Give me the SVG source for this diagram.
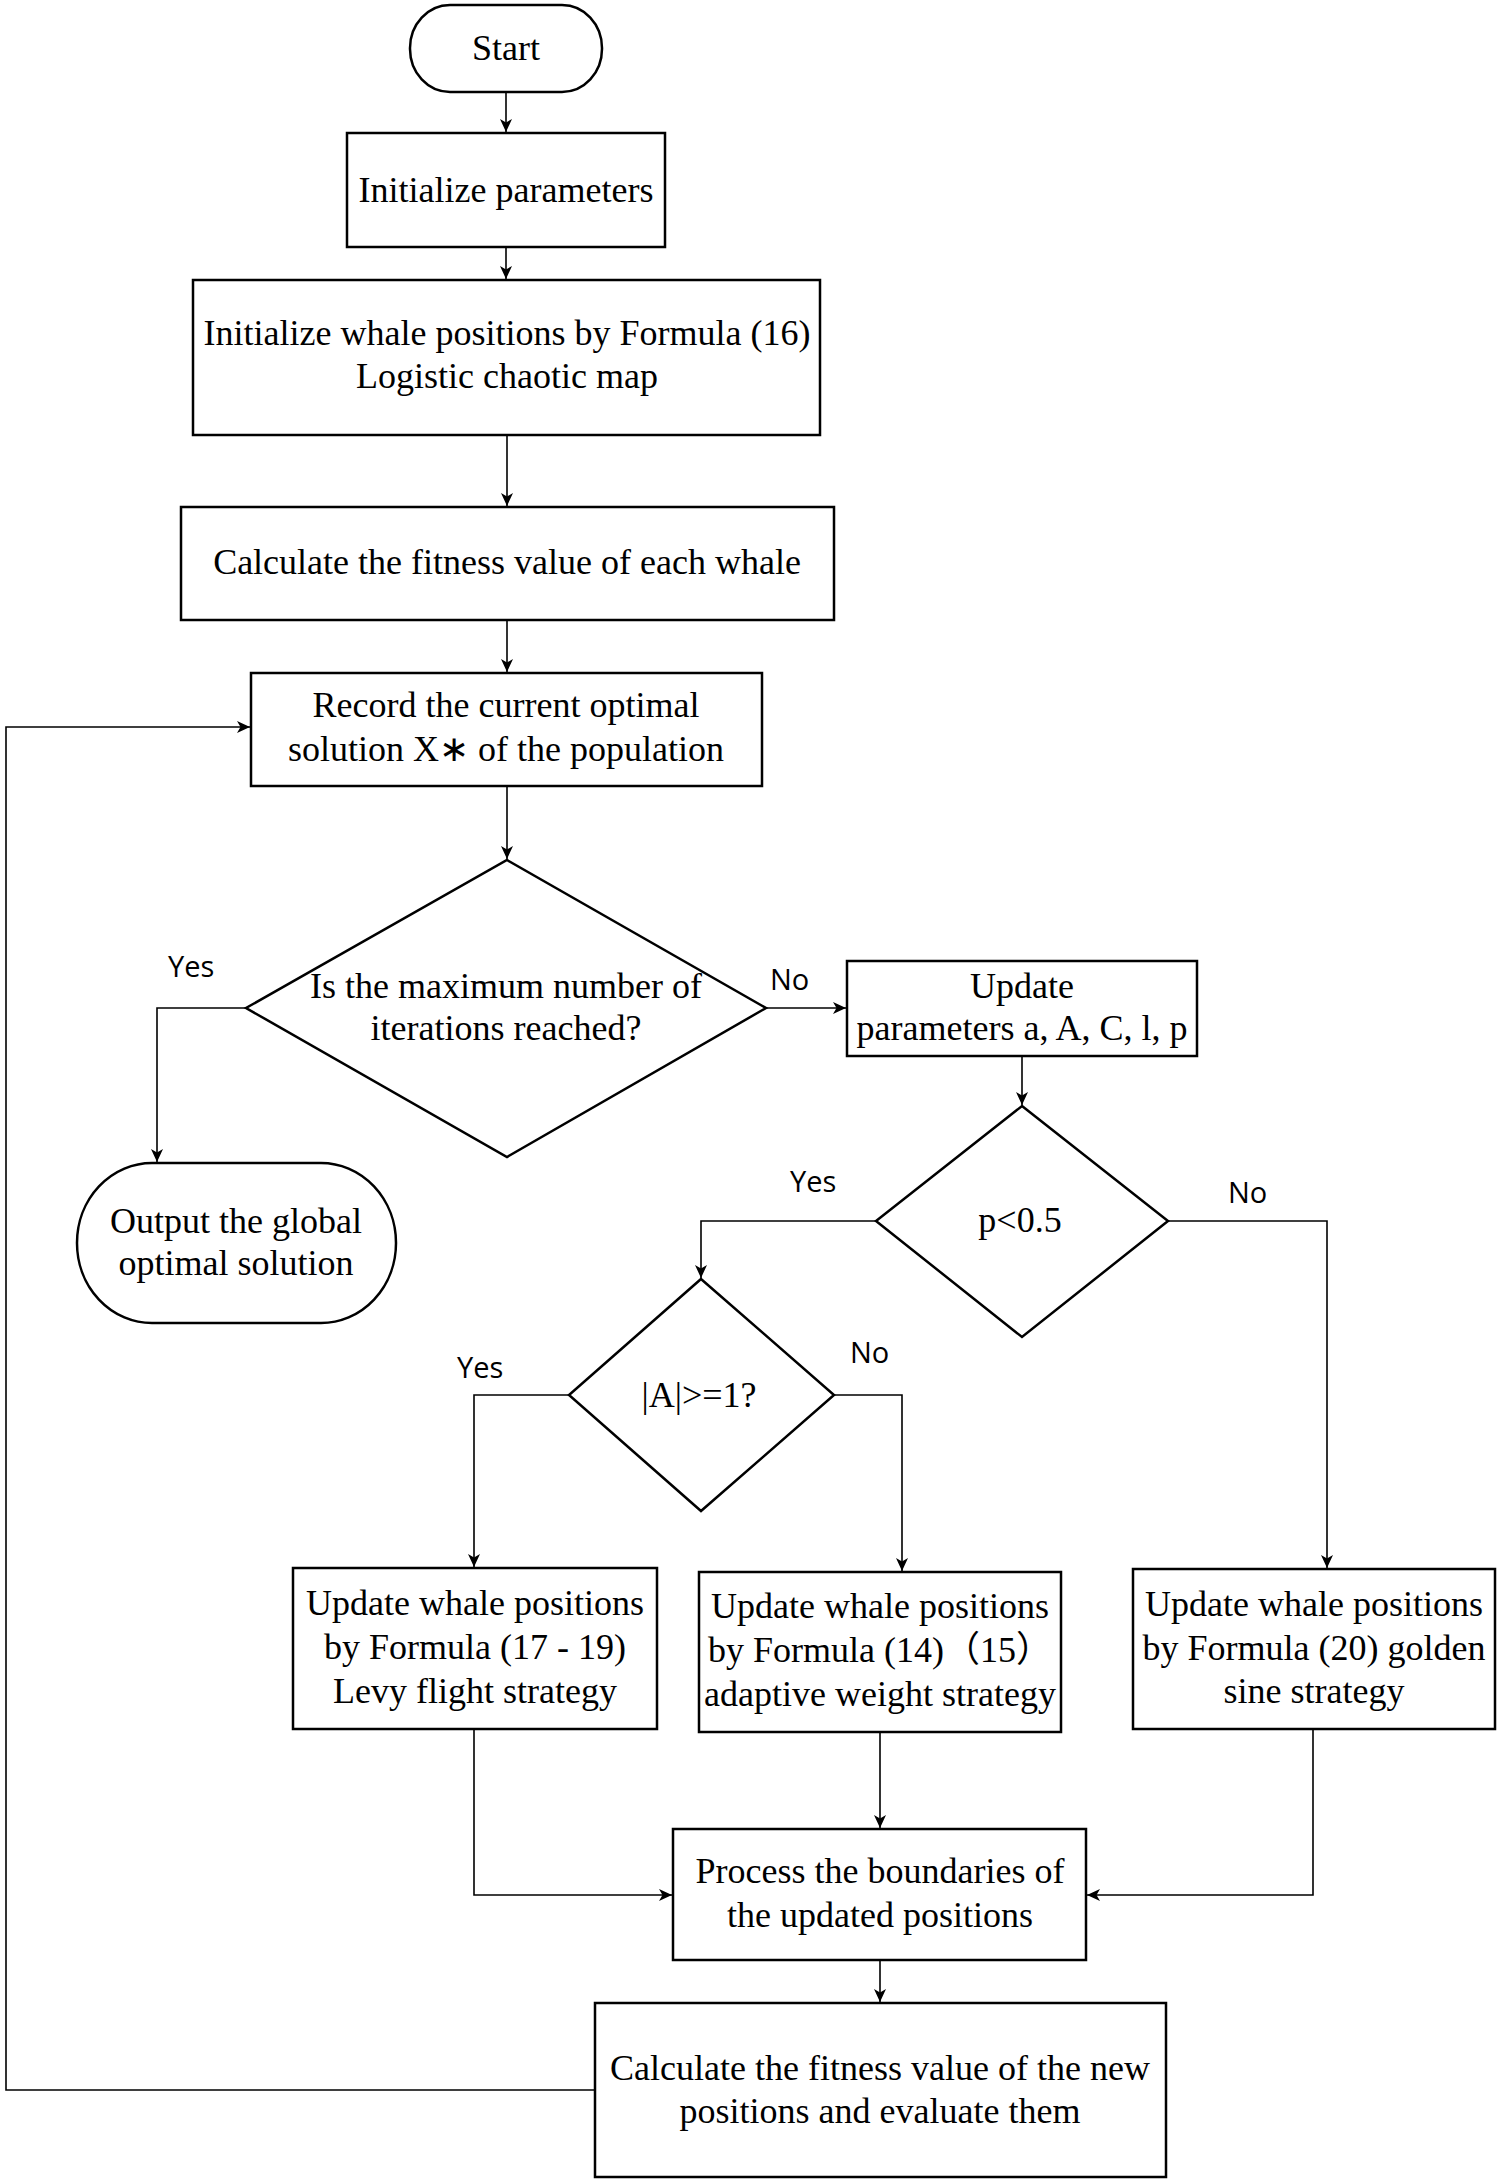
<svg xmlns="http://www.w3.org/2000/svg" width="1500" height="2182" viewBox="0 0 1500 2182">
<style>
.box{fill:#fff;stroke:#000;stroke-width:2.5}
.t{font-family:"Liberation Serif","Noto Sans CJK SC",serif;font-size:36px;fill:#000;text-anchor:middle}
.lbl{font-family:"Open Sans","Noto Sans",sans-serif;font-size:29px;fill:#000}
.c{fill:none;stroke:#000;stroke-width:1.6}
</style>
<defs>
<marker id="ah" markerUnits="userSpaceOnUse" markerWidth="14" markerHeight="12" refX="13" refY="6" orient="auto">
<path d="M0,0 L13,6 L0,12 L3.5,6 z" fill="#000"/>
</marker>
</defs>
<rect width="1500" height="2182" fill="#fff"/>
<g id="connectors">
<path class="c" d="M506,92 V132" marker-end="url(#ah)"/>
<path class="c" d="M506,247 V279" marker-end="url(#ah)"/>
<path class="c" d="M507,435 V506" marker-end="url(#ah)"/>
<path class="c" d="M507,620 V672" marker-end="url(#ah)"/>
<path class="c" d="M507,786 V859" marker-end="url(#ah)"/>
<path class="c" d="M246,1008 H157 V1162" marker-end="url(#ah)"/>
<path class="c" d="M766,1008 H846" marker-end="url(#ah)"/>
<path class="c" d="M1022,1056 V1105" marker-end="url(#ah)"/>
<path class="c" d="M876,1221 H701 V1278" marker-end="url(#ah)"/>
<path class="c" d="M1168,1221 H1327 V1568" marker-end="url(#ah)"/>
<path class="c" d="M569,1395 H474 V1567" marker-end="url(#ah)"/>
<path class="c" d="M834,1395 H902 V1571" marker-end="url(#ah)"/>
<path class="c" d="M474,1729 V1895 H672" marker-end="url(#ah)"/>
<path class="c" d="M880,1732 V1828" marker-end="url(#ah)"/>
<path class="c" d="M1313,1729 V1895 H1087" marker-end="url(#ah)"/>
<path class="c" d="M880,1960 V2002" marker-end="url(#ah)"/>
<path class="c" d="M595,2090 H6 V727 H250" marker-end="url(#ah)"/>
</g>
<g id="labels">
<text class="lbl" x="168" y="977">Yes</text>
<text class="lbl" x="770" y="990">No</text>
<text class="lbl" x="790" y="1192">Yes</text>
<text class="lbl" x="1228" y="1203">No</text>
<text class="lbl" x="457" y="1378">Yes</text>
<text class="lbl" x="850" y="1363">No</text>
</g>
<g id="start">
<rect class="box" x="410" y="5" width="192" height="87" rx="40" ry="43"/>
<text class="t" x="506" y="60">Start</text>
</g>
<g id="init-params">
<rect class="box" x="347" y="133" width="318" height="114"/>
<text class="t" x="506" y="202">Initialize parameters</text>
</g>
<g id="init-whale">
<rect class="box" x="193" y="280" width="627" height="155"/>
<text class="t" x="507" y="345">Initialize whale positions by Formula (16)</text>
<text class="t" x="507" y="388">Logistic chaotic map</text>
</g>
<g id="calc-fitness">
<rect class="box" x="181" y="507" width="653" height="113"/>
<text class="t" x="507" y="574">Calculate the fitness value of each whale</text>
</g>
<g id="record">
<rect class="box" x="251" y="673" width="511" height="113"/>
<text class="t" x="506" y="717">Record the current optimal</text>
<text class="t" x="506" y="761">solution X∗ of the population</text>
</g>
<g id="max-iter">
<polygon class="box" points="507,860 766,1008 507,1157 246,1008"/>
<text class="t" x="506" y="998">Is the maximum number of</text>
<text class="t" x="506" y="1040">iterations reached?</text>
</g>
<g id="output">
<rect class="box" x="77" y="1163" width="319" height="160" rx="75" ry="80"/>
<text class="t" x="236" y="1233">Output the global</text>
<text class="t" x="236" y="1275">optimal solution</text>
</g>
<g id="update-params">
<rect class="box" x="847" y="961" width="350" height="95"/>
<text class="t" x="1022" y="998">Update</text>
<text class="t" x="1022" y="1040">parameters a, A, C, l, p</text>
</g>
<g id="p-check">
<polygon class="box" points="1022,1106 1168,1221 1022,1337 876,1221"/>
<text class="t" x="1020" y="1232">p&lt;0.5</text>
</g>
<g id="a-check">
<polygon class="box" points="701,1279 834,1395 701,1511 569,1395"/>
<text class="t" x="699" y="1407">|A|&gt;=1?</text>
</g>
<g id="levy">
<rect class="box" x="293" y="1568" width="364" height="161"/>
<text class="t" x="475" y="1615">Update whale positions</text>
<text class="t" x="475" y="1659">by Formula (17 - 19)</text>
<text class="t" x="475" y="1703">Levy flight strategy</text>
</g>
<g id="adaptive">
<rect class="box" x="699" y="1572" width="362" height="160"/>
<text class="t" x="880" y="1618">Update whale positions</text>
<text class="t" x="880" y="1662">by Formula (14)（15）</text>
<text class="t" x="880" y="1706">adaptive weight strategy</text>
</g>
<g id="golden">
<rect class="box" x="1133" y="1569" width="362" height="160"/>
<text class="t" x="1314" y="1616">Update whale positions</text>
<text class="t" x="1314" y="1660">by Formula (20) golden</text>
<text class="t" x="1314" y="1703">sine strategy</text>
</g>
<g id="process">
<rect class="box" x="673" y="1829" width="413" height="131"/>
<text class="t" x="880" y="1883">Process the boundaries of</text>
<text class="t" x="880" y="1927">the updated positions</text>
</g>
<g id="calc-new">
<rect class="box" x="595" y="2003" width="571" height="174"/>
<text class="t" x="880" y="2080">Calculate the fitness value of the new</text>
<text class="t" x="880" y="2123">positions and evaluate them</text>
</g>
</svg>
